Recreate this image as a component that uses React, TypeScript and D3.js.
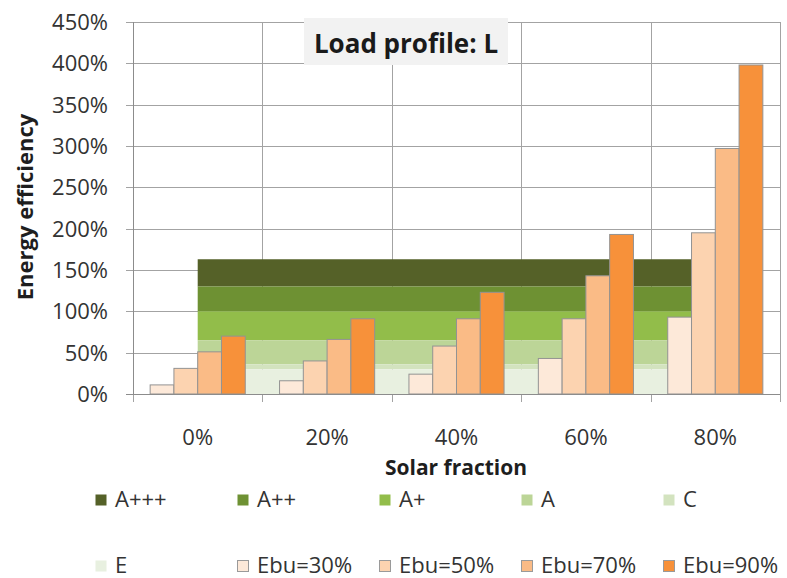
import React from 'react';
import * as d3 from 'd3';

// Solar fraction categories on the x axis
const categories = ['0%', '20%', '40%', '60%', '80%'];

// Energy efficiency per back-up efficiency (Ebu) series, as fractions
const seriesNames = ['Ebu=30%', 'Ebu=50%', 'Ebu=70%', 'Ebu=90%'];
const ebu30 = [0.11, 0.16, 0.24, 0.43, 0.93];
const ebu50 = [0.31, 0.40, 0.58, 0.91, 1.95];
const ebu70 = [0.51, 0.66, 0.91, 1.43, 2.97];
const ebu90 = [0.70, 0.91, 1.23, 1.93, 3.98];
const seriesValues = [ebu30, ebu50, ebu70, ebu90];
const seriesColors = ['#fde9d9', '#fcd3b0', '#fabb86', '#f7913a'];

// Energy class bands (lower bound, upper bound), load profile L
const classNames = ['A+++', 'A++', 'A+', 'A', 'C', 'E'];
const classLower = [1.30, 1.00, 0.65, 0.36, 0.30, 0.0];
const classUpper = [1.63, 1.30, 1.00, 0.65, 0.36, 0.30];
const classColors = ['#556128', '#6e9133', '#92bd4a', '#bcd597', '#d3e3bf', '#e8f0e0'];

const yTicks = [0, 0.5, 1, 1.5, 2, 2.5, 3, 3.5, 4, 4.5];

const W = 787;
const H = 578;
const plot = { left: 133, right: 780, top: 22, bottom: 394 };
const FONT = "'Open Sans', 'DejaVu Sans', sans-serif";

export default function App() {
  const x = d3.scaleBand<string>().domain(categories).range([plot.left, plot.right]).padding(0);
  const y = d3.scaleLinear().domain([0, 4.5]).range([plot.bottom, plot.top]);
  const bw = x.bandwidth();
  const groupW = bw * 0.735;
  const xInner = d3.scaleBand<string>().domain(seriesNames).range([0, groupW]).padding(0);
  const center = (c: string) => (x(c) as number) + bw / 2;
  const pct = d3.format('.0%');

  const crisp = (v: number) => Math.round(v) + 0.5;
  const gridColor = '#a3a3a3';

  const area = (lo: number, hi: number) =>
    d3
      .area<string>()
      .x((c) => center(c))
      .y0(() => y(lo))
      .y1(() => y(hi))(categories) as string;

  const boundaries = categories.map((c) => x(c) as number).concat([plot.right]);

  const legendCols = [95, 237, 379, 521, 663];
  const legendItems = [
    ...classNames.map((n, i) => ({ name: n, color: classColors[i], stroke: 'none' })),
    ...seriesNames.map((n, i) => ({ name: n, color: seriesColors[i], stroke: '#9a9a9a' })),
  ];

  return (
    <svg
      width={W}
      height={H}
      style={{ position: 'fixed', left: 0, top: 0, background: '#fff' }}
      fontFamily={FONT}
    >
      <rect width={W} height={H} fill="#fff" />
      {/* horizontal gridlines */}
      {yTicks.map((t) => (
        <line key={'h' + t} x1={plot.left - 7} x2={plot.right} y1={crisp(y(t))} y2={crisp(y(t))} stroke={gridColor} strokeWidth={1} />
      ))}
      {/* vertical gridlines at category boundaries */}
      {boundaries.map((b, i) => (
        <line key={'v' + i} x1={crisp(b)} x2={crisp(b)} y1={plot.top} y2={plot.bottom + 8} stroke={gridColor} strokeWidth={1} />
      ))}

      {/* energy class bands */}
      {classNames.map((n, i) => (
        <path key={n} d={area(classLower[i], classUpper[i])} fill={classColors[i]} />
      ))}

      {/* bars */}
      {categories.map((c, ci) => (
        <g key={c} transform={`translate(${center(c) - groupW / 2},0)`}>
          {seriesNames.map((s, si) => {
            const v = seriesValues[si][ci];
            return (
              <rect
                key={s}
                x={xInner(s) as number}
                y={y(v)}
                width={xInner.bandwidth()}
                height={y(0) - y(v)}
                fill={seriesColors[si]}
                stroke="#939393"
                strokeWidth={1}
              />
            );
          })}
        </g>
      ))}

      {/* axes */}
      <line x1={crisp(plot.left)} x2={crisp(plot.left)} y1={plot.top} y2={plot.bottom} stroke="#8c8c8c" />
      <line x1={plot.left - 7} x2={plot.right} y1={crisp(plot.bottom)} y2={crisp(plot.bottom)} stroke="#8c8c8c" />

      {/* y tick labels */}
      {yTicks.map((t) => (
        <text key={'yl' + t} x={108} y={y(t) + 8} textAnchor="end" fontSize={22} fill="#333">
          {pct(t)}
        </text>
      ))}
      {/* x tick labels */}
      {categories.map((c) => (
        <text key={'xl' + c} x={center(c)} y={445} textAnchor="middle" fontSize={22} fill="#333">
          {c}
        </text>
      ))}

      {/* axis titles */}
      <text x={456} y={475} textAnchor="middle" fontSize={21} fontWeight="bold" fill="#1e1e1e">
        Solar fraction
      </text>
      <text
        transform={`translate(33,207) rotate(-90)`}
        textAnchor="middle"
        fontSize={22}
        fontWeight="bold"
        fill="#1e1e1e"
      >
        Energy efficiency
      </text>

      {/* chart title */}
      <rect x={304} y={18} width={204} height={47} fill="#f2f2f2" />
      <text x={406} y={53} textAnchor="middle" fontSize={26} fontWeight="bold" fill="#1a1a1a">
        Load profile: L
      </text>

      {/* legend */}
      {legendItems.map((it, i) => {
        const row = Math.floor(i / 5);
        const col = i % 5;
        const lx = legendCols[col];
        const top = row === 0 ? 494 : 560;
        return (
          <g key={it.name}>
            <rect x={lx + 0.5} y={top + 0.5} width={11} height={11} fill={it.color} stroke={it.stroke} />
            <text x={lx + 20} y={top + 13} fontSize={22} fill="#333">
              {it.name}
            </text>
          </g>
        );
      })}
    </svg>
  );
}
